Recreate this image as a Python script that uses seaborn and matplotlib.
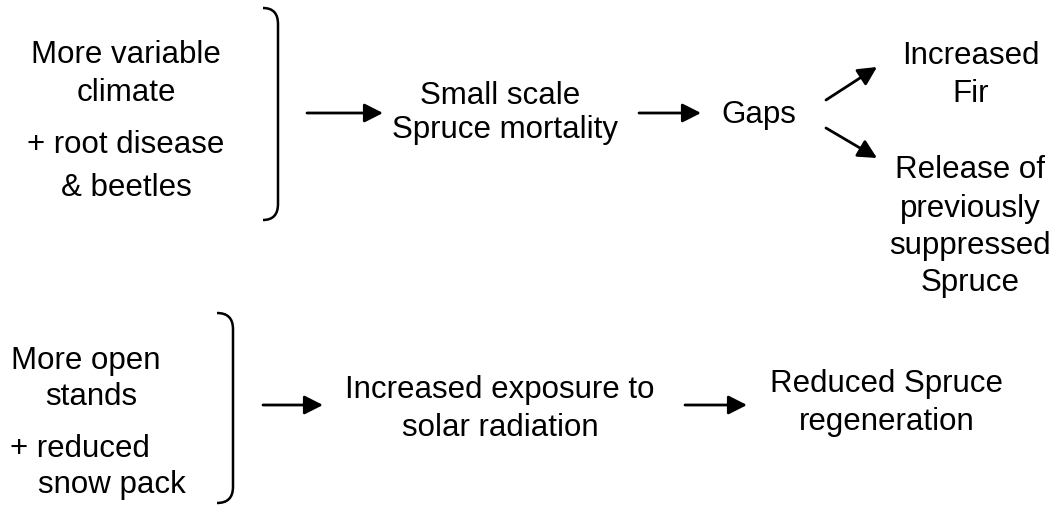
import matplotlib
matplotlib.use("Agg")
import matplotlib.pyplot as plt
import seaborn as sns
from matplotlib.path import Path
from matplotlib.patches import PathPatch

sns.set_theme(style="white")
plt.rcParams['font.family'] = ['Liberation Sans', 'DejaVu Sans']

# ---- diagram content ----
labels = ["More variable", "climate", "+ root disease", "& beetles",
          "Small scale", "Spruce mortality", "Gaps",
          "Increased", "Fir",
          "Release of", "previously", "suppressed", "Spruce",
          "More open", "stands", "+ reduced", "snow pack",
          "Increased exposure to", "solar radiation",
          "Reduced Spruce", "regeneration"]
label_x = [126, 126, 126, 126,
           500, 505, 759,
           971, 971,
           970, 970, 970, 970,
           86, 91, 10, 38,
           500, 500,
           887, 887]
label_y = [55, 93, 145, 188,
           96, 130, 115,
           56, 94,
           170, 209, 246, 283,
           361, 397, 449, 485,
           390, 428,
           384, 422]
label_ha = ["center"] * 15 + ["left", "left"] + ["center"] * 4

arrow_start = [(307, 114), (639, 114), (826, 101), (826, 129), (263, 406), (685, 406)]
arrow_end = [(383, 114), (701, 114), (877, 68), (877, 159), (323, 406), (747, 406)]

# brackets: (x_tip, x_line, y_top, y_bottom)
brackets = [(263, 278, 9, 221), (217, 233, 314, 504)]

fig = plt.figure(figsize=(10.53, 5.06), dpi=100)
ax = fig.add_axes([0, 0, 1, 1])
ax.set_xlim(0, 1053)
ax.set_ylim(506, 0)
ax.axis("off")

for t, x, y, ha in zip(labels, label_x, label_y, label_ha):
    ax.text(x, y, t, ha=ha, va="center", fontsize=22.5, color="black")

for s, e in zip(arrow_start, arrow_end):
    ax.annotate("", xy=e, xytext=s,
                arrowprops=dict(arrowstyle="-|>,head_length=0.75,head_width=0.38",
                                lw=2, color="black", mutation_scale=15,
                                shrinkA=0, shrinkB=0))

for xt, xl, yt, yb in brackets:
    r = 16
    verts = [(xt, yt), (xl, yt), (xl, yt + r), (xl, yb - r), (xl, yb), (xt, yb)]
    codes = [Path.MOVETO, Path.CURVE3, Path.CURVE3, Path.LINETO, Path.CURVE3, Path.CURVE3]
    ax.add_patch(PathPatch(Path(verts, codes), fill=False, lw=1.8, edgecolor="black"))

fig.savefig("out.png", dpi=100, facecolor="white")
